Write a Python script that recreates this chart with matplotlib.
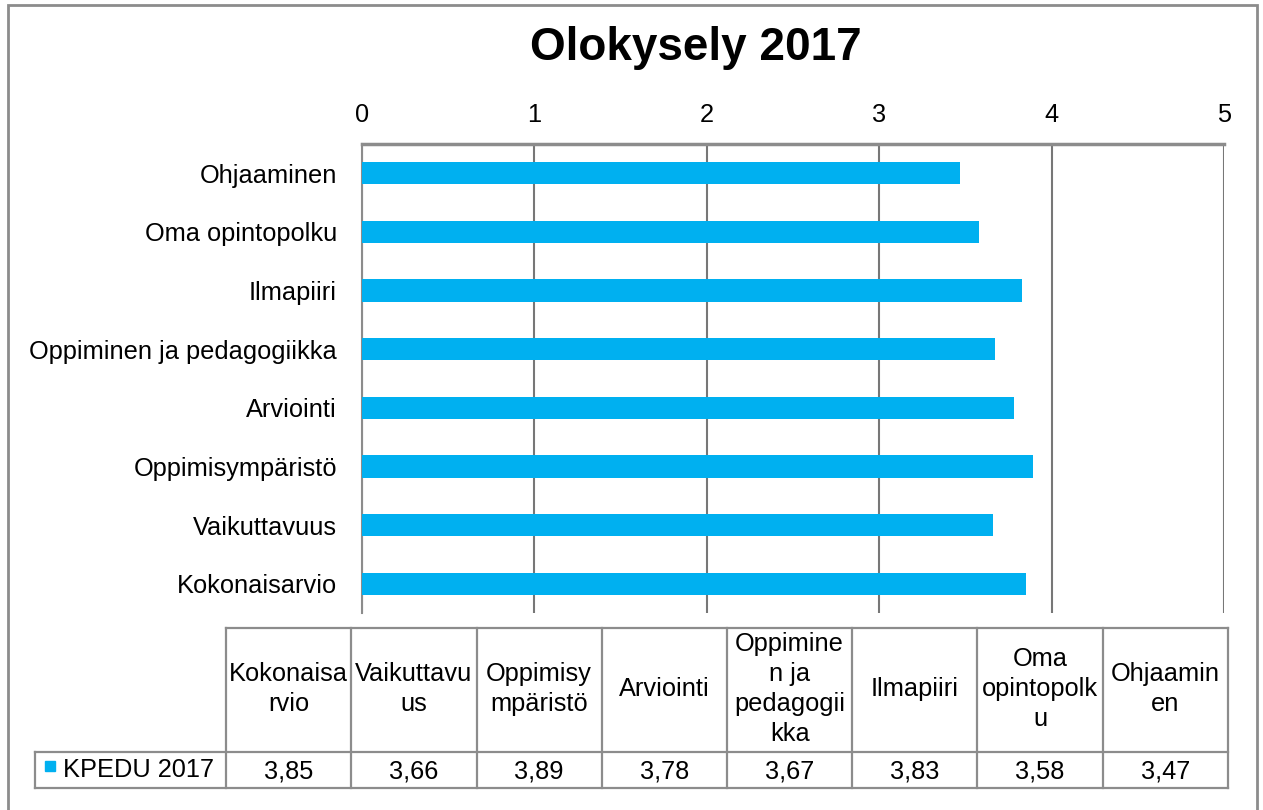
import matplotlib
matplotlib.use("Agg")
import matplotlib.pyplot as plt
import numpy as np
from matplotlib.patches import Rectangle
from matplotlib.lines import Line2D

plt.rcParams['font.family'] = ['Liberation Sans', 'DejaVu Sans']

# ---- data ----
categories = ["Kokonaisarvio", "Vaikuttavuus", "Oppimisympäristö", "Arviointi",
              "Oppiminen ja pedagogiikka", "Ilmapiiri", "Oma opintopolku", "Ohjaaminen"]
table_headers = ["Kokonaisa\nrvio", "Vaikuttavu\nus", "Oppimisy\nmpäristö", "Arviointi",
                 "Oppimine\nn ja\npedagogii\nkka", "Ilmapiiri", "Oma\nopintopolk\nu", "Ohjaamin\nen"]
values = [3.85, 3.66, 3.89, 3.78, 3.67, 3.83, 3.58, 3.47]
series_name = "KPEDU 2017"
title = "Olokysely 2017"
x_ticks = [0, 1, 2, 3, 4, 5]

BLUE = "#00B0F0"
GRID = "#777777"
LINE = "#8c8c8c"
FS = 18.3

W, H = 1263, 810
fig = plt.figure(figsize=(W / 100, H / 100), dpi=100)

def fx(px):
    return px / W

def fy(py):
    return 1 - py / H

# outer border
fig.patches.append(Rectangle((fx(8), fy(812)), fx(1257) - fx(8), fy(5) - fy(812),
                             transform=fig.transFigure, fill=False, edgecolor="#8c8c8c", lw=2))

# title
fig.text(fx(696), fy(48), title, ha="center", va="center", fontsize=33, fontweight="bold")

# main axes
left, right, top, bottom = 362, 1224, 144, 613
ax = fig.add_axes([fx(left), fy(bottom), fx(right) - fx(left), fy(top) - fy(bottom)])
y = np.arange(len(categories))
ax.barh(y, values, height=0.38, color=BLUE, zorder=3)
ax.set_xlim(0, 5)
ax.set_ylim(-0.5, len(categories) - 0.5)
ax.set_yticks(y)
ax.set_yticklabels(categories, fontsize=FS)
ax.set_xticks(x_ticks)
ax.set_xticklabels([str(t) for t in x_ticks], fontsize=FS)
ax.xaxis.tick_top()
ax.tick_params(axis="x", length=0, pad=12)
ax.tick_params(axis="y", length=0, pad=18)
ax.grid(axis="x", color=GRID, lw=1.5, zorder=1)
ax.set_axisbelow(True)
for s in ["bottom", "right"]:
    ax.spines[s].set_visible(False)
ax.spines["top"].set_color(LINE)
ax.spines["top"].set_linewidth(2.5)
ax.spines["left"].set_color(LINE)
ax.spines["left"].set_linewidth(1.5)

# data table
col_edges = np.linspace(226, 1228, len(categories) + 1)
t_top, t_mid, t_bot = 628, 752, 788
leg_left = 35

def hline(x0, x1, yy):
    fig.add_artist(Line2D([fx(x0), fx(x1)], [fy(yy), fy(yy)], transform=fig.transFigure,
                          color=LINE, lw=1.6))

def vline(xx, y0, y1):
    fig.add_artist(Line2D([fx(xx), fx(xx)], [fy(y0), fy(y1)], transform=fig.transFigure,
                          color=LINE, lw=1.6))

hline(col_edges[0], col_edges[-1], t_top)
hline(leg_left, col_edges[-1], t_mid)
hline(leg_left, col_edges[-1], t_bot)
for xe in col_edges:
    vline(xe, t_top, t_bot)
vline(leg_left, t_mid, t_bot)

for i, (hdr, v) in enumerate(zip(table_headers, values)):
    cx = (col_edges[i] + col_edges[i + 1]) / 2
    fig.text(fx(cx), fy((t_top + t_mid) / 2 - 1), hdr, ha="center", va="center",
             fontsize=FS, linespacing=1.32)
    fig.text(fx(cx), fy((t_mid + t_bot) / 2 + 1), f"{v:.2f}".replace(".", ","),
             ha="center", va="center", fontsize=FS)

# legend key in table
fig.patches.append(Rectangle((fx(45), fy(771)), fx(55) - fx(45), fy(761) - fy(771),
                             transform=fig.transFigure, color=BLUE))
fig.text(fx(63), fy(770), series_name, ha="left", va="center", fontsize=FS)

fig.savefig("out.png", dpi=100)
